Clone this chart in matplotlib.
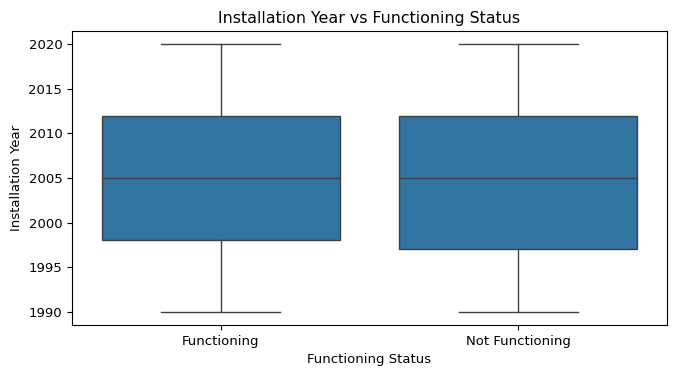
import matplotlib
matplotlib.use("Agg")
import matplotlib.pyplot as plt

categories = ["Functioning", "Not Functioning"]
whisker_low = [1990, 1990]
q1 = [1998, 1997]
median = [2005, 2005]
q3 = [2012, 2012]
whisker_high = [2020, 2020]

plt.rcParams["font.size"] = 9.5
fig = plt.figure(figsize=(6.76, 3.75), dpi=100)
ax = fig.add_axes([72/676, 1-325/375, (667-72)/676, (325-31)/375])

stats = []
for i, c in enumerate(categories):
    stats.append(dict(label=c, whislo=whisker_low[i], q1=q1[i], med=median[i],
                      q3=q3[i], whishi=whisker_high[i], fliers=[]))

edge = "#3f3f3f"
ax.bxp(stats, positions=list(range(len(categories))), widths=0.8, patch_artist=True,
       showfliers=False, capwidths=0.4,
       boxprops=dict(facecolor="#3274a1", edgecolor=edge, linewidth=1.0),
       medianprops=dict(color=edge, linewidth=1.0),
       whiskerprops=dict(color=edge, linewidth=1.0),
       capprops=dict(color=edge, linewidth=1.0))

ax.set_xlim(-0.5, 1.5)
ax.set_ylim(1988.5, 2021.5)
ax.set_yticks([1990, 1995, 2000, 2005, 2010, 2015, 2020])
ax.set_xticks([0, 1])
ax.set_xticklabels(categories)
ax.tick_params(labelsize=9.5)
ax.set_xlabel("Functioning Status", fontsize=9.5)
ax.set_ylabel("Installation Year", fontsize=9.5)
ax.set_title("Installation Year vs Functioning Status", fontsize=11.4)
fig.savefig("out.png", dpi=100)
